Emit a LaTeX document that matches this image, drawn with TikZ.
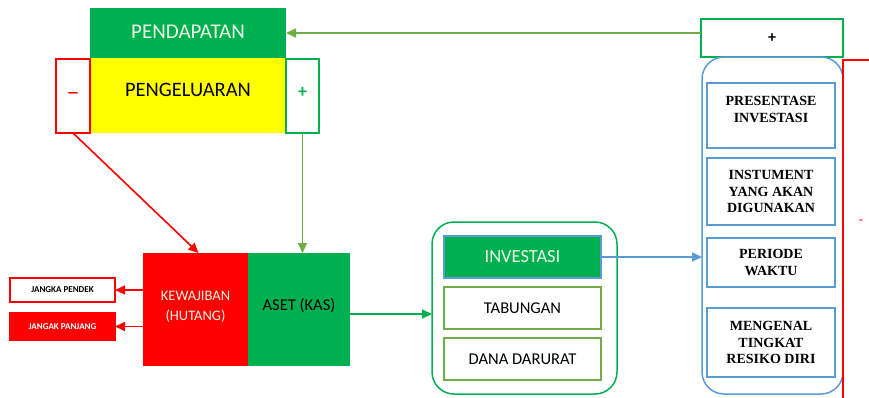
\documentclass[tikz,border=0pt]{standalone}
\usepackage{fontspec}
\setmainfont{Carlito}
\newfontfamily\timesfont{Liberation Serif}
\usetikzlibrary{arrows.meta}

\definecolor{grn}{HTML}{00B050}
\definecolor{ylw}{HTML}{FFFF00}
\definecolor{rd}{HTML}{FF0000}
\definecolor{olv}{HTML}{70AD47}
\definecolor{blu}{HTML}{5B9BD5}
\definecolor{lighttxt}{HTML}{EAF5E6}

\tikzset{
	box/.style={anchor=north west, inner sep=0pt, outer sep=0pt, align=center, line width=1.2pt},
	bluebox/.style={box, draw=blu, fill=white, minimum width=128pt,
		font=\timesfont\bfseries\fontsize{14}{16.5}\selectfont},
	subbox/.style={box, minimum width=157pt, minimum height=42pt, font=\fontsize{16.5}{20}\selectfont},
	smallbox/.style={box, draw=rd, minimum width=105pt, font=\bfseries\fontsize{9}{10}\selectfont},
	arr/.style={-{Triangle[length=10pt,width=9pt]}, line width=1.6pt},
}

\begin{document}
\begin{tikzpicture}[x=1pt,y=-1pt]
	\useasboundingbox (0,0) rectangle (869,397);

	% top: income / spending
	\node[box, fill=grn, minimum width=196pt, minimum height=50pt, text=lighttxt,
		font=\fontsize{21}{24}\selectfont] (pend) at (90,8) {\raisebox{2pt}{PENDAPATAN}};
	\node[box, fill=ylw, minimum width=196pt, minimum height=75pt,
		font=\fontsize{20.5}{24}\selectfont] (pengel) at (90,58) {\raisebox{12pt}{PENGELUARAN}};
	\node[box, draw=rd, fill=white, minimum width=34pt, minimum height=74pt, text=rd,
		font=\fontsize{26}{28}\selectfont] (minus) at (56,59) {\raisebox{-2pt}{--}};
	\node[box, draw=grn, fill=white, minimum width=33pt, minimum height=74pt, text=grn,
		font=\bfseries\fontsize{18}{20}\selectfont] (plus) at (286,59) {\raisebox{6pt}{+}};

	% debt and assets
	\node[box, fill=rd, minimum width=105pt, minimum height=113pt, text=lighttxt,
		font=\fontsize{14.5}{20}\selectfont] (kew) at (143,253) {\raisebox{7pt}{\shortstack{KEWAJIBAN\\[6pt](HUTANG)}}};
	\node[box, fill=grn, minimum width=102pt, minimum height=113pt,
		font=\fontsize{16.5}{20}\selectfont] (aset) at (248,253) {\raisebox{10pt}{ASET (KAS)}};
	\node[smallbox, fill=white, minimum height=24pt] (pendek) at (10,278) {JANGKA PENDEK};
	\node[smallbox, fill=rd, minimum height=27pt, text=white] (panjang) at (10,313) {JANGAK PANJANG};

	% savings group
	\draw[grn, line width=1.5pt, rounded corners=22pt] (432,222) rectangle (617,394);
	\coordinate (savl) at (432,314);
	\node[subbox, draw=blu, fill=grn, text=lighttxt, font=\fontsize{18.5}{20}\selectfont] (inv) at (444,236) {INVESTASI};
	\node[subbox, draw=olv, fill=white] (tab) at (444,287) {TABUNGAN};
	\node[subbox, draw=olv, fill=white] (dana) at (444,338) {DANA DARURAT};

	% investment checklist
	\node[box, draw=grn, fill=white, minimum width=142pt, minimum height=38pt,
		font=\bfseries\fontsize{16}{18}\selectfont] (ptop) at (701,19) {\raisebox{-3pt}{+}};
	\draw[blu, line width=1.5pt, rounded corners=22pt] (843,57) -- (843,394) -- (702,394) -- (702,57) -- cycle;
	\coordinate (chkl) at (702,258);
	\node[bluebox, minimum height=65pt] (pres) at (707,83) {PRESENTASE\\INVESTASI\\[-4.5pt]};
	\node[bluebox, minimum height=67pt] (instr) at (707,158) {INSTUMENT\\YANG AKAN\\DIGUNAKAN};
	\node[bluebox, minimum height=49pt] (periode) at (707,238) {PERIODE\\WAKTU};
	\node[bluebox, minimum height=69pt] (resiko) at (707,308) {MENGENAL\\TINGKAT\\RESIKO DIRI};
	\node[box, draw=rd, line width=1.5pt, minimum width=60pt, minimum height=360pt] (minbox) at (843,60) {};
	\node[text=rd, font=\fontsize{14}{15}\selectfont] (minsign) at (861,222) {-};

	% connectors
	\draw[arr, olv] (ptop.west |- pend.east) -- (pend.east);
	\draw[arr, rd] (minus.south) -- ([xshift=3pt]kew.north);
	\draw[arr, olv] (plus.south) -- (plus.south |- aset.north);
	\draw[arr, rd] (kew.west |- pendek.east) -- (pendek.east);
	\draw[arr, rd] (kew.west |- panjang.east) -- (panjang.east);
	\draw[arr, grn] (aset.east |- savl) -- (savl);
	\draw[arr, blu] (inv.east) -- (inv.east -| chkl);
\end{tikzpicture}
\end{document}
